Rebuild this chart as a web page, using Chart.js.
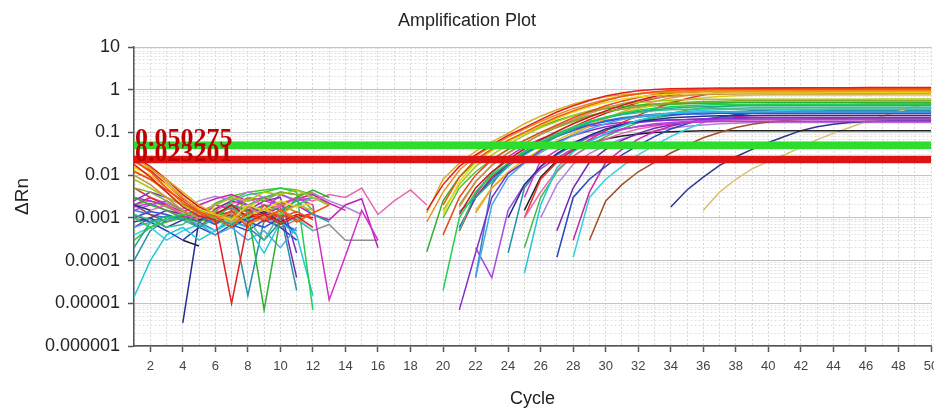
<!DOCTYPE html>
<html>
<head>
<meta charset="utf-8">
<title>Amplification Plot</title>
<script src="https://cdn.jsdelivr.net/npm/chart.js@4.4.1/dist/chart.umd.min.js"></script>
<style>
  html, body { margin: 0; padding: 0; background: #fff; overflow: hidden; }
  #wrap { position: relative; width: 934px; height: 412px; }
</style>
</head>
<body>
<div id="wrap"><canvas id="amp-chart"></canvas></div>
<script>
// ---- data (delta Rn per cycle, null = not plotted) ----
const _ = null;

const cycles = [1, 2, 3, 4, 5, 6, 7, 8, 9, 10, 11, 12, 13, 14, 15, 16, 17, 18, 19, 20,
  21, 22, 23, 24, 25, 26, 27, 28, 29, 30, 31, 32, 33, 34, 35, 36, 37, 38, 39, 40,
  41, 42, 43, 44, 45, 46, 47, 48, 49, 50];

const thresholds = [0.050275, 0.023201];
const thresholdLabels = ['0.050275', '0.023201'];
const thresholdColors = ['#2ddc2d', '#dc1414'];

const decades = [1e-6, 1e-5, 1e-4, 1e-3, 1e-2, 1e-1, 1, 10];
const decadeLabels = ['0.000001', '0.00001', '0.0001', '0.001', '0.01', '0.1', '1', '10'];

const w01 = [1.8e-2,9e-3,4e-3,1.8e-3,1.1e-3,9e-4,1e-5,8e-4,1.2e-3,7e-4,
  1.1e-3,6e-4,_,_,_,_,_,_,1.5e-3,6e-3,
  .016,.03,.052,.085,.13,.2,.3,.42,.56,.71,
  .84,.94,1.01,1.05,1.07,1.08,1.09,1.1,1.1,1.1,
  1.1,1.11,1.11,1.11,1.11,1.12,1.12,1.12,1.12,1.12];
const w02 = [2.2e-2,1.2e-2,5e-3,2.2e-3,1.3e-3,1.1e-3,6e-4,1.4e-3,9e-4,1.6e-3,
  8e-4,1.3e-3,2e-3,_,_,_,_,_,_,2e-3,
  9e-3,.023,.041,.066,.1,.155,.23,.32,.43,.56,
  .69,.8,.9,.96,1,1.02,1.03,1.04,1.04,1.05,
  1.05,1.05,1.05,1.05,1.06,1.06,1.06,1.06,1.06,1.06];
const w03 = [2.5e-2,1.5e-2,7e-3,3e-3,1.5e-3,1e-3,1.3e-3,7e-4,1e-3,1.5e-3,
  1e-3,_,_,_,_,_,_,_,8e-4,4e-3,
  .013,.028,.048,.078,.12,.18,.26,.36,.47,.59,
  .7,.79,.86,.9,.92,.93,.94,.94,.95,.95,
  .95,.95,.95,.95,.95,.96,.96,.96,.96,.96];
const w04 = [2e-2,1.4e-2,8e-3,4e-3,2e-3,1.2e-3,8e-4,1.1e-3,1.6e-3,1.2e-3,
  2e-3,1.5e-3,_,_,_,_,_,_,1.3e-3,8e-3,
  .019,.036,.06,.095,.16,.24,.34,.46,.58,.68,
  .76,.82,.86,.88,.89,.9,.9,.9,.9,.9,
  .9,.9,.9,.91,.91,.91,.91,.91,.91,.91];
const w05 = [1.5e-2,1e-2,6e-3,3e-3,1.6e-3,1.2e-3,9e-4,2e-3,1.5e-3,2.5e-3,
  1.8e-3,2.2e-3,_,_,_,_,_,_,_,1.2e-3,
  7e-3,.02,.037,.06,.095,.145,.21,.3,.4,.5,
  .6,.68,.74,.78,.81,.83,.84,.85,.85,.85,
  .85,.85,.85,.86,.86,.86,.86,.86,.86,.86];
const w06 = [1.2e-2,8e-3,4.5e-3,2.5e-3,1.4e-3,8e-4,1.5e-3,6e-4,2e-3,1e-3,
  1.4e-3,9e-4,_,_,_,_,_,_,_,4e-4,
  3e-3,.01,.023,.04,.065,.1,.15,.22,.31,.42,
  .54,.66,.77,.86,.92,.96,.98,.99,1,1,
  1,1,1.01,1.01,1.01,1.01,1.01,1.02,1.02,1.02];
const w07 = [2.8e-2,1.6e-2,8e-3,3.5e-3,1.8e-3,1.2e-3,2e-3,1e-3,1.3e-3,8e-4,
  1.2e-3,1e-3,_,_,_,_,_,_,_,_,
  1.2e-3,5e-3,.012,.023,.042,.068,.105,.16,.23,.32,
  .43,.56,.7,.82,.92,.99,1.04,1.07,1.08,1.09,
  1.09,1.1,1.1,1.1,1.1,1.1,1.1,1.1,1.1,1.1];
const w08 = [1e-2,6e-3,3e-3,1.5e-3,1e-3,1.3e-3,8e-4,1.8e-3,1.1e-3,2.2e-3,
  1.3e-3,_,_,_,_,_,_,_,_,_,
  1.8e-3,7e-3,.017,.033,.055,.09,.14,.2,.28,.37,
  .47,.56,.64,.7,.74,.77,.78,.79,.8,.8,
  .8,.8,.8,.8,.8,.8,.8,.81,.81,.81];
const w09 = [8e-3,5e-3,3e-3,2e-3,1.3e-3,2e-3,3e-3,2.5e-3,4e-3,3.5e-3,
  4.5e-3,3e-3,2e-3,_,_,_,_,_,_,1.5e-3,
  6e-3,.016,.03,.052,.085,.13,.18,.25,.32,.39,
  .45,.5,.54,.57,.59,.6,.6,.6,.6,.6,
  .6,.6,.6,.6,.6,.6,.61,.61,.61,.61];
const w10 = [5e-3,4e-3,2.5e-3,1.4e-3,1e-3,1.5e-3,9e-4,3e-3,2.5e-3,4e-3,
  3.5e-3,4e-3,_,_,_,_,_,_,_,_,
  2e-3,7e-3,.017,.033,.056,.09,.13,.18,.24,.3,
  .36,.41,.45,.49,.51,.53,.54,.55,.55,.55,
  .55,.55,.55,.55,.55,.55,.55,.55,.55,.55];
const w11 = [3e-3,2e-3,1.5e-3,1e-3,8e-4,1.2e-3,2e-3,1.5e-3,7e-6,1e-3,
  3e-3,4.5e-3,3e-3,_,_,_,_,_,1.6e-4,2.5e-3,
  9e-3,.021,.038,.062,.095,.14,.19,.25,.31,.36,
  .4,.43,.46,.47,.48,.49,.49,.5,.5,.5,
  .5,.5,.5,.5,.5,.5,.5,.5,.5,.5];
const w12 = [1e-3,6e-4,1e-3,1.2e-3,1.5e-3,9e-4,2.5e-3,3.5e-3,4e-3,5e-3,
  4e-3,7e-6,_,_,_,_,_,_,_,2e-5,
  1e-3,4e-3,.01,.019,.034,.056,.088,.13,.18,.23,
  .28,.33,.37,.4,.42,.44,.45,.45,.45,.45,
  .45,.45,.45,.45,.45,.46,.46,.46,.46,.46];
const w13 = [2e-4,8e-4,1.1e-3,9e-4,6e-4,1e-3,7e-4,1.2e-3,2e-3,1.5e-3,
  2.5e-3,1.2e-3,8e-4,_,_,_,_,_,_,_,
  1.4e-3,3e-3,7e-3,.016,.03,.05,.08,.12,.17,.22,
  .27,.31,.34,.37,.39,.4,.41,.42,.42,.42,
  .42,.42,.42,.42,.42,.42,.42,.42,.42,.42];
const w14 = [1.2e-3,9e-4,6e-4,7e-4,1.4e-3,1.1e-3,1.8e-3,9e-4,3e-4,1.3e-3,
  2e-3,3e-3,_,_,_,_,_,_,_,_,
  5e-4,4e-3,.011,.023,.04,.064,.096,.135,.18,.22,
  .26,.29,.32,.34,.35,.36,.37,.37,.38,.38,
  .38,.38,.38,.38,.38,.38,.38,.38,.38,.38];
const w15 = [1.4e-5,1e-4,4e-4,6e-4,3e-4,5e-4,8e-4,6e-4,1.5e-4,8e-4,
  4e-4,1.5e-5,_,_,_,_,_,_,_,_,
  _,_,_,_,5e-5,2e-3,.015,.035,.06,.095,
  .14,.19,.24,.28,.31,.33,.34,.35,.35,.35,
  .35,.35,.35,.35,.35,.35,.35,.35,.35,.35];
const w16 = [6e-4,8e-4,9e-4,1e-3,7e-4,4e-4,6e-4,3e-4,5e-4,2e-4,
  6e-4,_,_,_,_,_,_,_,_,_,
  _,4e-5,2e-3,9e-3,.019,.034,.055,.085,.12,.16,
  .2,.23,.26,.28,.29,.3,.3,.3,.3,.3,
  .3,.3,.3,.3,.3,.3,.3,.3,.3,.3];
const w17 = [1e-3,1.4e-3,1.2e-3,9e-4,1.1e-3,7e-4,1.3e-3,8e-4,6e-4,1e-3,
  4e-4,_,_,_,_,_,_,_,_,_,
  6e-4,3e-3,8e-3,.018,.032,.052,.08,.11,.15,.18,
  .21,.23,.25,.26,.27,.27,.28,.28,.28,.28,
  .28,.28,.28,.28,.28,.28,.28,.28,.28,.28];
const w18 = [2e-3,1.5e-3,_,3.5e-6,9e-4,1.1e-3,6e-4,1e-3,1.4e-3,8e-4,
  _,_,_,_,_,_,_,_,_,_,
  _,_,_,1e-3,6e-3,.016,.032,.055,.085,.12,
  .15,.18,.2,.22,.23,.24,.245,.25,.25,.25,
  .25,.25,.25,.25,.25,.25,.25,.25,.25,.25];
const w19 = [2.5e-3,4e-3,3e-3,2e-3,1.5e-3,1e-3,2e-3,1.5e-3,2.5e-3,3e-3,
  1.5e-4,_,_,_,_,_,_,_,_,_,
  7e-6,1.5e-4,3e-3,.011,.02,.038,.06,.085,.11,.135,
  .155,.17,.185,.195,.2,.21,.215,.22,.22,.22,
  .22,.22,.22,.22,.22,.22,.22,.22,.22,.22];
const w20 = [1.5e-3,2e-3,2.5e-3,1.5e-3,1e-3,2e-3,3e-3,2e-3,1.5e-3,3.5e-3,
  2.5e-3,3e-3,2e-3,_,_,_,_,_,_,_,
  _,2e-4,4e-5,1.5e-3,6e-3,.014,.025,.042,.065,.09,
  .115,.14,.16,.17,.18,.19,.195,.2,.2,.2,
  .2,.2,.2,.2,.2,.2,.2,.2,.2,.2];
const w21 = [1.8e-3,2.2e-3,1.5e-3,1e-3,1.4e-3,2e-3,1.6e-3,3e-3,2.5e-3,2e-3,
  3e-3,2e-3,1.2e-5,1.3e-4,1.5e-3,3e-4,_,_,_,_,
  _,_,_,_,3e-3,.022,.038,.058,.08,.1,
  .12,.135,.15,.16,.17,.175,.18,.18,.18,.18,
  .18,.18,.18,.18,.18,.18,.18,.18,.18,.18];
const w22 = [1e-3,1.5e-3,2e-3,1.2e-3,9e-4,1.5e-3,2.2e-3,2.8e-3,2e-3,1.8e-3,
  3e-3,2.5e-3,3.5e-3,3e-3,5e-3,1.2e-3,2.5e-3,4.5e-3,2e-3,_,
  _,_,_,_,1e-3,4e-3,.013,.028,.047,.07,
  .095,.12,.14,.16,.17,.18,.19,.195,.2,.2,
  .2,.2,.2,.2,.2,.2,.2,.2,.2,.2];
const w23 = [5e-3,3e-3,2e-3,1.2e-3,1e-3,1.5e-3,1.1e-3,1.6e-3,8e-4,1.2e-3,
  9e-4,_,_,_,_,_,_,_,_,_,
  _,_,_,_,1e-3,8e-3,.02,.04,.068,.11,
  .17,.25,.36,.49,.62,.75,.86,.94,.99,1.02,
  1.03,1.04,1.04,1.05,1.05,1.05,1.05,1.05,1.05,1.05];
const w24 = [1.6e-2,1e-2,5e-3,2.5e-3,1.2e-3,7e-4,1.2e-3,2e-3,1.4e-3,1.9e-3,
  1.4e-3,_,_,_,_,_,_,_,_,_,
  _,1.3e-3,5e-3,.011,.019,.034,.056,.09,.14,.21,
  .3,.41,.53,.64,.73,.8,.85,.88,.89,.9,
  .9,.9,.9,.9,.9,.9,.9,.9,.9,.9];
const w25 = [3e-4,6e-4,8e-4,1e-3,1.3e-3,9e-4,6e-4,2e-3,3e-3,4e-3,
  3.5e-3,1.5e-3,_,_,_,_,_,_,_,_,
  _,_,_,_,2e-4,3e-3,.012,.028,.05,.08,
  .12,.17,.22,.28,.33,.37,.4,.42,.44,.45,
  .45,.45,.45,.45,.45,.45,.45,.45,.45,.45];
const w26 = [1.2e-3,8e-4,5e-4,3e-4,6e-4,4e-4,7e-4,5e-4,9e-4,6e-4,
  3e-4,_,_,_,_,_,_,_,_,_,
  _,_,_,_,_,_,1.2e-4,3e-3,8e-3,.016,
  .03,.05,.08,.12,.16,.2,.23,.26,.28,.29,
  .3,.3,.3,.3,.3,.3,.3,.3,.3,.3];
const w27 = [6e-4,1e-3,1.5e-3,1.2e-3,8e-4,1.6e-3,2.5e-3,2e-3,1.2e-3,1.8e-3,
  4e-5,_,_,_,_,_,_,_,_,_,
  _,_,_,_,_,_,5e-4,5e-3,.02,.04,
  .065,.095,.125,.15,.17,.19,.2,.21,.22,.22,
  .22,.22,.22,.22,.22,.22,.22,.22,.22,.22];
const w28 = [4e-4,6e-4,3e-4,5e-4,7e-4,5e-4,1.1e-3,9e-4,1.2e-3,7e-4,
  1e-3,5e-4,_,_,_,_,_,_,_,_,
  _,_,_,_,_,_,_,1.2e-4,3e-3,8e-3,
  .016,.03,.05,.08,.12,.17,.22,.26,.29,.31,
  .33,.34,.34,.35,.35,.35,.35,.35,.35,.35];
const w29 = [2e-3,3e-3,2e-3,1.4e-3,2e-3,2.8e-3,3.5e-3,2.5e-3,3e-3,2e-3,
  2.8e-3,3.5e-3,2.2e-3,1.5e-3,_,_,_,_,_,_,
  _,_,_,_,_,_,_,3e-4,4e-3,.02,
  .04,.07,.105,.14,.17,.2,.22,.235,.245,.25,
  .25,.25,.25,.25,.25,.25,.25,.25,.25,.25];
const w30 = [2e-3,1.2e-3,8e-4,1.1e-3,6e-4,1.3e-3,1.7e-3,9e-4,1.4e-3,1.1e-3,
  _,_,_,_,_,_,_,_,_,_,
  _,_,_,_,_,_,_,_,3e-4,2.5e-3,
  6e-3,.012,.02,.033,.05,.075,.1,.13,.155,.175,
  .19,.2,.21,.21,.22,.22,.22,.22,.22,.22];
const w31 = [_,_,_,3e-4,2.2e-4,_,_,_,_,_,
  _,_,_,_,_,_,_,_,_,_,
  _,_,_,_,1.5e-3,9e-3,.022,.038,.055,.07,
  .082,.092,.099,.104,.107,.109,.11,.11,.11,.11,
  .11,.11,.11,.11,.11,.11,.11,.11,.11,.11];
const w32 = [8e-4,1e-3,6e-4,9e-4,_,_,_,_,_,_,
  _,_,_,_,_,_,_,_,_,_,
  _,_,_,_,_,_,_,_,_,_,
  _,_,_,1.8e-3,4.5e-3,9e-3,.017,.027,.04,.058,
  .08,.11,.135,.155,.17,.18,.185,.19,.19,.19];
const w33 = [_,_,_,_,_,_,_,_,_,_,
  _,_,_,_,_,_,_,_,_,_,
  _,_,_,_,_,_,_,_,_,_,
  _,_,_,_,_,1.5e-3,4e-3,8e-3,.014,.021,
  .03,.045,.068,.095,.13,.18,.24,.31,.4,.5];
const w34 = [2.2e-2,1.3e-2,6e-3,2.8e-3,1.6e-3,1.1e-3,1.4e-3,1.2e-3,9e-4,1.5e-3,
  1e-3,1.3e-3,_,_,_,_,_,_,_,_,
  5e-4,3e-3,9e-3,.018,.033,.055,.088,.135,.2,.28,
  .38,.5,.62,.74,.84,.92,.97,1,1.02,1.03,
  1.04,1.04,1.05,1.05,1.05,1.05,1.05,1.05,1.05,1.05];
const w35 = [1.3e-2,8e-3,4e-3,2e-3,1.3e-3,1.7e-3,2.4e-3,1.8e-3,2.8e-3,2.2e-3,
  3e-3,2.5e-3,_,_,_,_,_,_,_,_,
  _,1.5e-3,5e-3,.012,.023,.04,.065,.1,.15,.21,
  .28,.36,.44,.52,.59,.65,.69,.72,.74,.75,
  .75,.75,.75,.75,.75,.75,.75,.75,.75,.75];
const w36 = [3e-3,2.5e-3,2e-3,1.2e-3,9e-4,1.2e-3,1.8e-3,1.4e-3,2e-3,1.5e-3,
  2e-3,1.2e-3,9e-4,2e-3,2.8e-3,2e-4,_,_,_,_,
  5e-4,3.5e-3,.011,.027,.047,.07,.095,.12,.14,.155,
  .17,.18,.19,.195,.2,.2,.2,.2,.2,.2,
  .2,.2,.2,.2,.2,.2,.2,.2,.2,.2];
const w37 = [1.5e-3,1.2e-3,1e-3,1.1e-3,8e-4,5e-4,9e-4,6e-4,3e-4,8e-4,
  5e-4,_,_,_,_,_,_,_,_,_,
  _,4e-5,6e-3,.02,.036,.058,.088,.12,.155,.19,
  .22,.245,.265,.28,.29,.295,.3,.3,.3,.3,
  .3,.3,.3,.3,.3,.3,.3,.3,.3,.3];
const w38 = [2e-3,3e-3,2.2e-3,1.6e-3,2.5e-3,3.2e-3,2.6e-3,4e-3,3e-3,3.6e-3,
  2.6e-3,3.8e-3,2.5e-3,1.8e-3,1.2e-3,_,_,_,_,_,
  _,_,_,_,_,1e-3,6e-3,.018,.032,.05,
  .07,.09,.11,.125,.14,.15,.16,.165,.17,.17,
  .17,.17,.17,.17,.17,.17,.17,.17,.17,.17];
const w39 = [2e-3,2.5e-3,1.8e-3,1.2e-3,1e-3,2.2e-3,3.2e-3,4e-3,4.5e-3,5e-3,
  4.5e-3,3.5e-3,2e-3,_,_,_,_,_,_,1e-3,
  5e-3,.012,.023,.04,.065,.1,.14,.19,.25,.3,
  .35,.39,.42,.45,.47,.48,.49,.5,.5,.5,
  .5,.5,.5,.5,.5,.5,.5,.5,.5,.5];
const w40 = [1e-4,5e-4,9e-4,1.2e-3,1e-3,7e-4,1.1e-3,1.5e-5,9e-4,1.3e-3,
  2e-5,_,_,_,_,_,_,_,_,_,
  _,_,_,1.5e-4,5e-3,.016,.03,.05,.078,.11,
  .15,.19,.22,.25,.27,.29,.3,.31,.32,.32,
  .32,.32,.32,.32,.32,.32,.32,.32,.32,.32];
const w41 = [1e-3,8e-4,1.1e-3,9e-4,1.2e-3,8e-4,1e-3,7e-4,1.1e-3,6e-4,
  9e-4,5e-4,7e-4,3e-4,3e-4,3e-4,_,_,_,_,
  _,_,_,_,_,_,_,_,_,_,
  _,_,_,_,_,_,_,_,_,_,
  _,_,_,_,_,_,_,_,_,_];

const wellSeries = [w01, w02, w03, w04, w05, w06, w07, w08, w09, w10,
  w11, w12, w13, w14, w15, w16, w17, w18, w19, w20,
  w21, w22, w23, w24, w25, w26, w27, w28, w29, w30,
  w31, w32, w33, w34, w35, w36, w37, w38, w39, w40, w41];

const wellColors = ['#e02020', '#f05a10', '#f08a20', '#d8b020', '#e8d818',
  '#e84820', '#cc1818', '#c89048', '#a8c818', '#88a830',
  '#30b030', '#20d050', '#20a890', '#40c080', '#20c8d8',
  '#48a8e8', '#3050d8', '#203090', '#8030c8', '#a848e0',
  '#d030c8', '#e868b0', '#e83030', '#f0a030', '#48b848',
  '#2848c0', '#7028b0', '#38d0e0', '#c828a8', '#a05028',
  '#202020', '#283890', '#d8c070', '#d82020', '#e0c828',
  '#c020c0', '#3080c0', '#b080e0', '#58c030', '#2890a8', '#909090'];

// ---- helpers ----
const FONT = "'Liberation Sans', Arial, sans-serif";

const isDecade = v => Math.abs(Math.log10(v) - Math.round(Math.log10(v))) < 1e-9;

// minor log ticks (1..9 x each decade) so the grid gets the dotted sub-lines
const yTicks = [];
decades.forEach(d => {
    if (d === 10) { yTicks.push(d); return; }
    for (let m = 1; m <= 9; m++) yTicks.push(m * d);
});

// threshold value labels drawn over the left end of the lines
const thresholdText = {
    id: 'thresholdText',
    afterDatasetsDraw(chart) {
        const { ctx, chartArea, scales } = chart;
        ctx.save();
        ctx.font = "bold 26px 'Liberation Serif', 'Times New Roman', serif";
        ctx.fillStyle = '#c00000';
        ctx.textBaseline = 'alphabetic';
        ctx.textAlign = 'left';
        thresholds.forEach((t, i) => {
            ctx.fillText(thresholdLabels[i], chartArea.left + 1, scales.y.getPixelForValue(t) + 1);
        });
        ctx.restore();
    }
};

const thresholdDatasets = thresholds.map((t, i) => ({
    label: 'Threshold ' + thresholdLabels[i],
    data: cycles.map(() => t),
    borderColor: thresholdColors[i],
    borderWidth: 7.5,
    pointRadius: 0,
    order: 0
}));

const wellDatasets = wellSeries.map((d, i) => ({
    label: 'Well ' + (i + 1),
    data: d,
    borderColor: wellColors[i],
    borderWidth: 1.5,
    pointRadius: 0,
    spanGaps: false,
    order: 1
}));

new Chart(document.getElementById('amp-chart'), {
    type: 'line',
    data: {
        labels: cycles,
        datasets: [...thresholdDatasets, ...wellDatasets]
    },
    options: {
        responsive: true,
        maintainAspectRatio: false,
        animation: false,
        layout: { padding: 0 },
        elements: { line: { tension: 0 }, point: { radius: 0 } },
        plugins: {
            legend: { display: false },
            tooltip: { enabled: false },
            title: {
                display: true,
                text: 'Amplification Plot',
                color: '#222',
                font: { family: FONT, size: 18, weight: 'normal' },
                padding: { top: 10, bottom: 15.4 }
            }
        },
        scales: {
            x: {
                type: 'linear',
                min: 1,
                max: 50,
                afterBuildTicks: s => { s.ticks = cycles.map(c => ({ value: c })); },
                afterFit: s => { s.height = 66; s.paddingLeft = 0; s.paddingRight = 3; },
                ticks: {
                    autoSkip: false,
                    maxRotation: 0,
                    padding: 7,
                    color: '#444',
                    font: { family: FONT, size: 13 },
                    callback: v => (v % 2 === 0 ? String(v) : '')
                },
                grid: {
                    color: '#d8d8d8',
                    lineWidth: 1,
                    tickLength: 6,
                    tickWidth: 1.5,
                    tickColor: ctx => (ctx.tick && ctx.tick.value % 2 === 0 ? '#555' : 'rgba(0,0,0,0)')
                },
                border: { display: true, color: '#555', width: 1.5, dash: [2, 2] },
                title: {
                    display: true,
                    text: 'Cycle',
                    color: '#222',
                    font: { family: FONT, size: 18 },
                    padding: { top: 2, bottom: 2 }
                }
            },
            y: {
                type: 'logarithmic',
                min: 1e-6,
                max: 10,
                afterBuildTicks: s => { s.ticks = yTicks.map(v => ({ value: v, major: isDecade(v) })); },
                afterFit: s => { s.width = 134; },
                ticks: {
                    autoSkip: false,
                    padding: 8,
                    color: '#222',
                    font: { family: FONT, size: 18 },
                    callback: value => {
                        const i = decades.findIndex(d => Math.abs(d - value) / d < 1e-9);
                        return i >= 0 ? decadeLabels[i] : '';
                    }
                },
                grid: {
                    color: ctx => (ctx.tick && isDecade(ctx.tick.value) ? '#c4c4c4' : '#e0e0e0'),
                    lineWidth: 1,
                    tickLength: 6,
                    tickWidth: 1.5,
                    tickColor: ctx => (ctx.tick && isDecade(ctx.tick.value) ? '#555' : 'rgba(0,0,0,0)')
                },
                border: {
                    display: true,
                    color: '#555',
                    width: 1.5,
                    dash: ctx => (ctx.tick && isDecade(ctx.tick.value) ? [] : [2, 2])
                },
                title: {
                    display: true,
                    text: 'ΔRn',
                    color: '#222',
                    font: { family: FONT, size: 19 },
                    padding: { top: 11, bottom: 0 }
                }
            }
        }
    },
    plugins: [thresholdText]
});
</script>
</body>
</html>
